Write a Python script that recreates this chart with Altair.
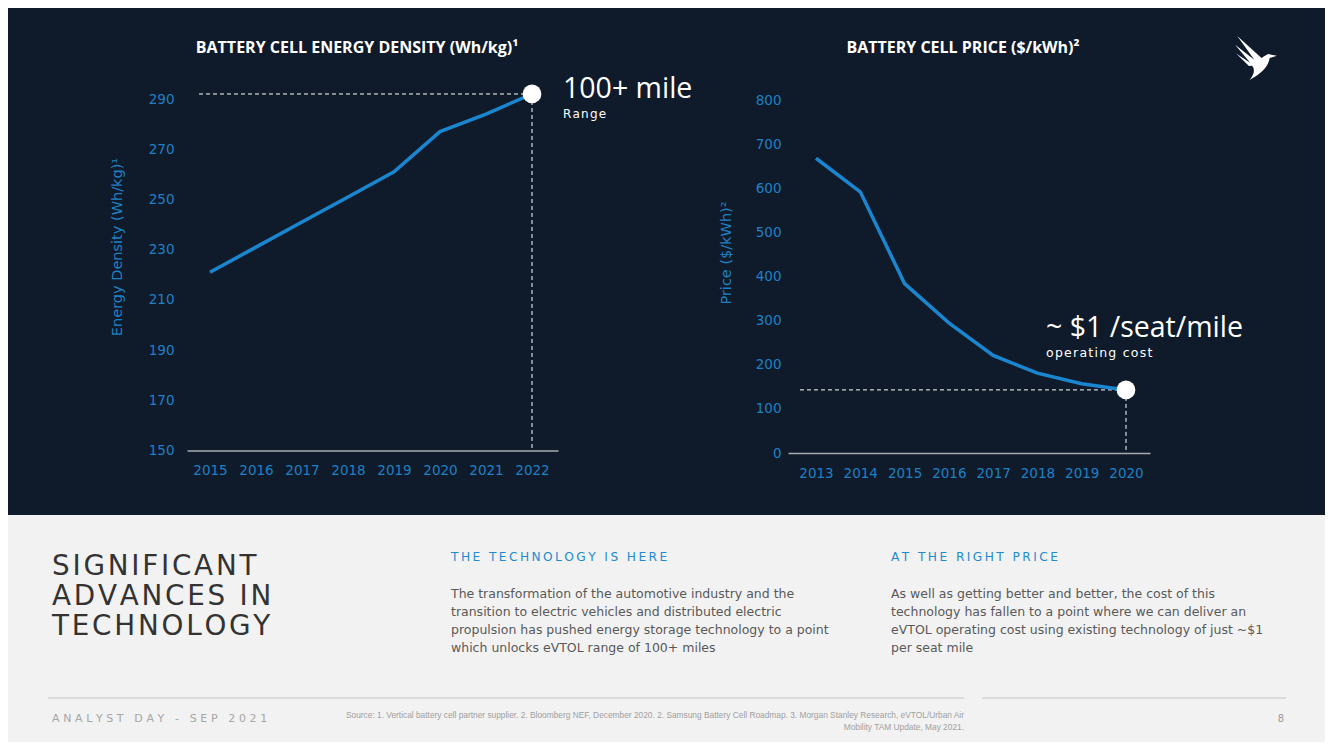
import altair as alt
import pandas as pd

# ---------------- data ----------------
density_years = [2015, 2016, 2017, 2018, 2019, 2020, 2021, 2022]
density_values = [221, 231, 241, 251, 261, 277, 284, 292]
density_ticks = [150, 170, 190, 210, 230, 250, 270, 290]

price_years = [2013, 2014, 2015, 2016, 2017, 2018, 2019, 2020]
price_values = [668, 592, 384, 295, 221, 181, 157, 143]
price_ticks = [0, 100, 200, 300, 400, 500, 600, 700, 800]

# ---------------- texts ----------------
title_left = "BATTERY CELL ENERGY DENSITY (Wh/kg)\u00b9"
title_right = "BATTERY CELL PRICE ($/kWh)\u00b2"
ytitle_left = "Energy Density (Wh/kg)\u00b9"
ytitle_right = "Price ($/kWh)\u00b2"
callout_left = ["100+ mile", "Range"]
callout_right = ["~ $1 /seat/mile", "operating cost"]
heading_lines = ["SIGNIFICANT", "ADVANCES IN", "TECHNOLOGY"]
sub_left = "THE TECHNOLOGY IS HERE"
para_left = [
    "The transformation of the automotive industry and the",
    "transition to electric vehicles and distributed electric",
    "propulsion has pushed energy storage technology to a point",
    "which unlocks eVTOL range of 100+ miles",
]
sub_right = "AT THE RIGHT PRICE"
para_right = [
    "As well as getting better and better, the cost of this",
    "technology has fallen to a point where we can deliver an",
    "eVTOL operating cost using existing technology of just ~$1",
    "per seat mile",
]
footer_left = "ANALYST DAY - SEP 2021"
source_lines = [
    "Source: 1. Vertical battery cell partner supplier. 2. Bloomberg NEF, December 2020. 2. Samsung Battery Cell Roadmap. 3. Morgan Stanley Research, eVTOL/Urban Air",
    "Mobility TAM Update, May 2021.",
]
page_no = "8"

# ---------------- style ----------------
W, H = 1317, 734
M = 8
BG_DARK = "#0f1b2a"
BG_LIGHT = "#f2f2f2"
LINE = "#1a86d0"
TICK = "#1f80c4"
BODY = "DejaVu Sans"
SANS = "Open Sans"
HAIR = "\u200a"
THIN = "\u2009"
THREE = "\u2004"
DASH = [4, 3]


def spaced(s, sep):
    return sep.join(list(s))


def txt(s, x, y, size, color, font=BODY, weight="normal", align="left",
        baseline="middle", angle=None, line_height=None):
    props = dict(font=font, fontSize=size, color=color, fontWeight=weight,
                 align=align, baseline=baseline)
    if angle is not None:
        props["angle"] = angle
    if line_height is not None:
        props["lineBreak"] = "\n"
        props["lineHeight"] = line_height
    return alt.Chart(pd.DataFrame({"label": [s]})).mark_text(**props).encode(
        text="label:N", x=alt.value(x - M), y=alt.value(y - M))


def xaxis(values, y_page):
    return alt.Axis(values=values, format="d", orient="bottom", offset=y_page - M - H,
                    grid=False, ticks=False, tickSize=0, domain=True, zindex=1,
                    domainColor="#a7abb0", domainWidth=1.5, labelColor=TICK,
                    labelFont=BODY, labelFontSize=13.5, labelPadding=13,
                    labelFlush=False, labelOverlap=False, title=None)


def yaxis(values, x_page):
    return alt.Axis(values=values, format="d", orient="left", offset=-(x_page - M),
                    grid=False, ticks=False, tickSize=0, domain=False, zindex=1,
                    labelColor=TICK, labelFont=BODY, labelFontSize=13.5,
                    labelPadding=2, labelOverlap=False, labelFlush=False, title=None)


# ---------------- background ----------------
bg = alt.Chart(pd.DataFrame({"a": [0]})).mark_rect(color=BG_DARK).encode(
    x=alt.value(0), x2=alt.value(W), y=alt.value(0), y2=alt.value(515 - M))

# ---------------- left chart ----------------
df_d = pd.DataFrame({"year": density_years, "density": density_values})
xd = alt.X("year:Q", scale=alt.Scale(domain=[2014.5, 2022.565], range=[187 - M, 558 - M],
                                     nice=False, zero=False),
           axis=xaxis(density_years, 450.5))
yd = alt.Y("density:Q", scale=alt.Scale(domain=[150, 290], range=[450.5 - M, 99 - M],
                                        nice=False, zero=False),
           axis=yaxis(density_ticks, 176))
base_d = alt.Chart(df_d)
last_d = base_d.transform_filter(alt.datum.year == density_years[-1])
left = alt.layer(
    last_d.mark_rule(color="white", strokeDash=DASH, strokeWidth=1).encode(
        x=alt.X("year:Q"), x2=alt.value(199 - M), y="density:Q"),
    last_d.mark_rule(color="white", strokeDash=DASH, strokeWidth=1).encode(
        x="year:Q", y="density:Q", y2=alt.value(450.5 - M)),
    base_d.mark_line(color=LINE, strokeWidth=3.5).encode(x=xd, y=yd),
    last_d.mark_circle(size=350, color="white", opacity=1).encode(x="year:Q", y="density:Q"),
    last_d.mark_text(font=SANS, fontSize=28.5, color="white", align="left", baseline="middle",
                     dx=31, dy=-5).encode(x="year:Q", y="density:Q",
                                          text=alt.value(callout_left[0])),
    last_d.mark_text(font=BODY, fontSize=12, color="white", align="left", baseline="middle",
                     dx=31, dy=20).encode(x="year:Q", y="density:Q",
                                          text=alt.value(spaced(callout_left[1], HAIR))),
)

# ---------------- right chart ----------------
df_p = pd.DataFrame({"year": price_years, "price": price_values})
xp = alt.X("year:Q", scale=alt.Scale(domain=[2012.368, 2020.542], range=[788 - M, 1150 - M],
                                     nice=False, zero=False),
           axis=xaxis(price_years, 453))
yp = alt.Y("price:Q", scale=alt.Scale(domain=[0, 800], range=[453 - M, 100 - M],
                                      nice=False, zero=False),
           axis=yaxis(price_ticks, 783))
base_p = alt.Chart(df_p)
last_p = base_p.transform_filter(alt.datum.year == price_years[-1])
right = alt.layer(
    last_p.mark_rule(color="white", strokeDash=DASH, strokeWidth=1).encode(
        x=alt.X("year:Q"), x2=alt.value(797 - M), y="price:Q"),
    last_p.mark_rule(color="white", strokeDash=DASH, strokeWidth=1).encode(
        x="year:Q", y="price:Q", y2=alt.value(453 - M)),
    base_p.mark_line(color=LINE, strokeWidth=3.5).encode(x=xp, y=yp),
    last_p.mark_circle(size=350, color="white", opacity=1).encode(x="year:Q", y="price:Q"),
    last_p.mark_text(font=SANS, fontSize=28.5, color="white", align="left", baseline="middle",
                     dx=-80, dy=-62).encode(x="year:Q", y="price:Q",
                                            text=alt.value(callout_right[0])),
    last_p.mark_text(font=BODY, fontSize=12.5, color="white", align="left", baseline="middle",
                     dx=-80, dy=-37).encode(x="year:Q", y="price:Q",
                                            text=alt.value(spaced(callout_right[1], HAIR))),
)

# ---------------- logo (bird) ----------------
bird_path = ("M -0.85 -1 L 0.3 0.05 L 0.02 0.22 Z "
             "M -0.95 -0.6 L 0.08 0.2 L -0.18 0.32 Z "
             "M -0.9 -0.2 L -0.08 0.34 L -0.32 0.36 Z "
             "M -0.2 0.32 Q 0.25 -0.02 0.55 -0.18 L 0.95 -0.1 L 0.62 0.0 "
             "Q 0.55 0.55 -0.3 1.0 Q 0.05 0.6 -0.2 0.32 Z")
logo = alt.Chart(pd.DataFrame({"a": [0]})).mark_point(
    shape=bird_path, filled=True, color="white", opacity=1, size=1936, strokeWidth=0
).encode(x=alt.value(1256 - M), y=alt.value(58 - M))

# ---------------- text blocks ----------------
texts = [
    txt(title_left, 357, 48, 16, "white", font=SANS, weight="bold", align="center"),
    txt(title_right, 963, 48, 16, "white", font=SANS, weight="bold", align="center"),
    txt(ytitle_left, 118, 247, 14.5, TICK, align="center", angle=270),
    txt(ytitle_right, 727, 253, 14.5, TICK, align="center", angle=270),
    txt("\n".join(spaced(l, HAIR) for l in heading_lines), 52, 553, 27.8, "#333333",
        baseline="top", line_height=30),
    txt(spaced(sub_left, THIN), 451, 557, 12.2, "#1d8bcf"),
    txt("\n".join(para_left), 451, 588, 12.5, "#595959", baseline="top", line_height=18),
    txt(spaced(sub_right, THIN), 891, 557, 12.2, "#1d8bcf"),
    txt("\n".join(para_right), 891, 588, 12.5, "#595959", baseline="top", line_height=18),
    txt(spaced(footer_left, THREE), 52, 719, 11, "#a6a6a6"),
    txt("\n".join(source_lines), 964, 711, 8.35, "#a0a0a0",
        font="Liberation Sans", align="right", baseline="top", line_height=12),
    txt(page_no, 1281, 719, 10, "#999999", align="center"),
]

sep_lines = [
    alt.Chart(pd.DataFrame({"a": [0]})).mark_rule(color="#c4c4c4", strokeWidth=1).encode(
        x=alt.value(48 - M), x2=alt.value(964 - M), y=alt.value(698 - M)),
    alt.Chart(pd.DataFrame({"a": [0]})).mark_rule(color="#c4c4c4", strokeWidth=1).encode(
        x=alt.value(982 - M), x2=alt.value(1286 - M), y=alt.value(698 - M)),
]

chart = alt.layer(bg, left, right, logo, *sep_lines, *texts).resolve_scale(
    x="independent", y="independent"
).resolve_axis(
    x="independent", y="independent"
).properties(
    width=W, height=H, padding=0, autosize=alt.AutoSizeParams(type="none")
).configure(background=BG_LIGHT).configure_view(strokeWidth=0)

chart.save("out.html", embed_options={"renderer": "svg", "actions": False})
